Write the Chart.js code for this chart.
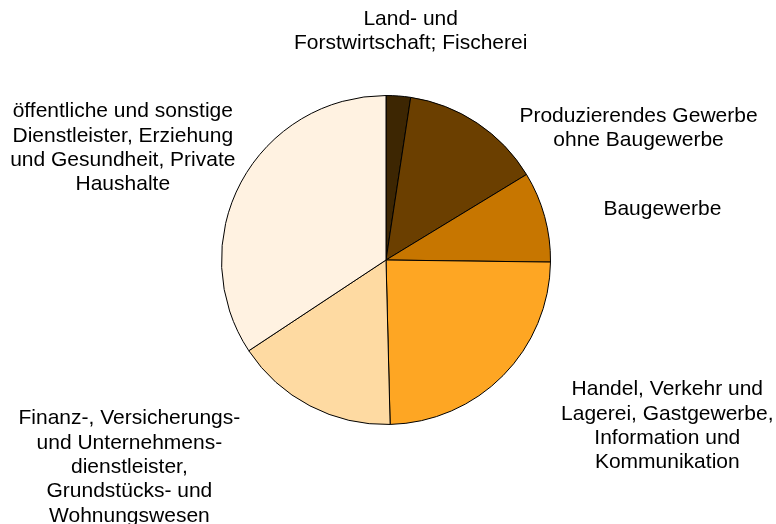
<!DOCTYPE html>
<html>
<head>
<meta charset="utf-8">
<script src="https://cdn.jsdelivr.net/npm/chart.js@4"></script>
<style>
  html, body { margin: 0; padding: 0; background: #fff; }
  #wrap { width: 776px; height: 524px; }
</style>
</head>
<body>
<div id="wrap"><canvas id="pie_chart"></canvas></div>
<script>
// data
const sectors = [
  ["Land- und", "Forstwirtschaft; Fischerei"],
  ["Produzierendes Gewerbe", "ohne Baugewerbe"],
  ["Baugewerbe"],
  ["Handel, Verkehr und", "Lagerei, Gastgewerbe,", "Information und", "Kommunikation"],
  ["Finanz-, Versicherungs-", "und Unternehmens-", "dienstleister,", "Grundstücks- und", "Wohnungswesen"],
  ["öffentliche und sonstige", "Dienstleister, Erziehung", "und Gesundheit, Private", "Haushalte"]
];
const shares = [2.4, 13.9, 8.9, 24.4, 16.1, 34.3];
const sliceColors = ["#3d2602", "#6b3f00", "#c77600", "#fea623", "#fedaa2", "#fff2e1"];

// label block centres, relative to pie centre in units of the radius
const labelOffsets = [
  [0.15, -1.39],
  [1.535, -0.8],
  [1.68, -0.31],
  [1.71, 1.01],
  [-1.56, 1.26],
  [-1.6, -0.68]
];

const lineHeight = 24.3;

const outsideLabels = {
  id: "outsideLabels",
  afterDraw(chart) {
    const ctx = chart.ctx;
    const arc = chart.getDatasetMeta(0).data[0];
    const cx = arc.x, cy = arc.y, r = arc.outerRadius;
    ctx.save();
    ctx.font = "21px 'Liberation Sans', Arial, sans-serif";
    ctx.fillStyle = "#000";
    ctx.textAlign = "center";
    ctx.textBaseline = "middle";
    sectors.forEach((lines, i) => {
      const x = cx + labelOffsets[i][0] * r;
      const y0 = cy + labelOffsets[i][1] * r - (lines.length - 1) * lineHeight / 2;
      lines.forEach((txt, j) => {
        ctx.fillText(txt, x, y0 + j * lineHeight);
      });
    });
    ctx.restore();
  }
};

const ctx = document.getElementById("pie_chart").getContext("2d");
new Chart(ctx, {
  type: "pie",
  data: {
    labels: sectors.map(s => s.join(" ")),
    datasets: [{
      data: shares,
      backgroundColor: sliceColors,
      borderColor: "#000",
      borderWidth: 1,
      borderAlign: "center"
    }]
  },
  options: {
    responsive: true,
    maintainAspectRatio: false,
    animation: false,
    layout: { padding: { left: 221, right: 225, top: 95, bottom: 99 } },
    plugins: {
      legend: { display: false },
      tooltip: { enabled: false }
    }
  },
  plugins: [outsideLabels]
});
</script>
</body>
</html>
